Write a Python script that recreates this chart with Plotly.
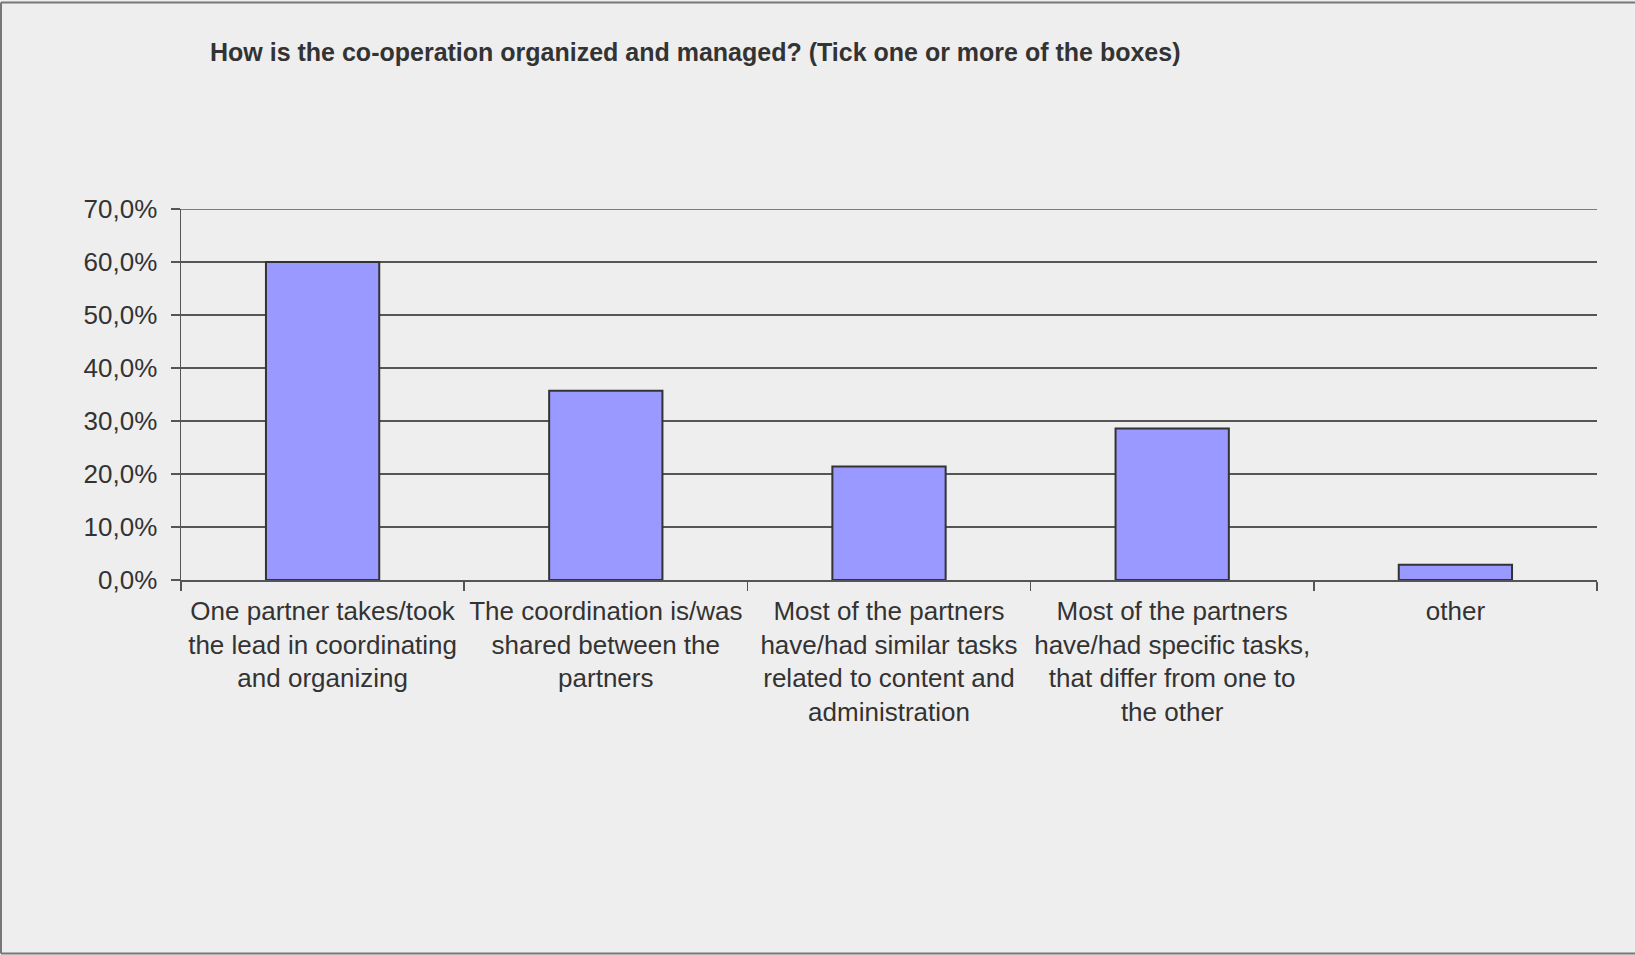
import plotly.graph_objects as go

categories = [
    "One partner takes/took<br>the lead in coordinating<br>and organizing",
    "The coordination is/was<br>shared between the<br>partners",
    "Most of the partners<br>have/had similar tasks<br>related to content and<br>administration",
    "Most of the partners<br>have/had specific tasks,<br>that differ from one to<br>the other",
    "other",
]
values = [0.600, 0.357, 0.214, 0.286, 0.029]
tick_vals = [0, 0.1, 0.2, 0.3, 0.4, 0.5, 0.6, 0.7]
tick_text = ["0,0%", "10,0%", "20,0%", "30,0%", "40,0%", "50,0%", "60,0%", "70,0%"]
y_max = 0.7
title_text = "How is the co-operation organized and managed? (Tick one or more of the boxes)"

W, H = 1635, 955
L, R, T, B = 181, 38, 209, 375
pw, ph = W - L - R, H - T - B

fig = go.Figure()
fig.add_trace(go.Bar(
    x=categories, y=values,
    marker=dict(color="#9999FF", line=dict(color="#333333", width=2)),
    width=0.40,
    hoverinfo="skip",
))

def px_x(p):
    return (p - L) / pw

def px_y(p):
    return (H - B - p) / ph

fig.update_layout(
    width=W, height=H,
    margin=dict(l=L, r=R, t=T, b=B, autoexpand=False),
    paper_bgcolor="#EEEEEE",
    plot_bgcolor="#EEEEEE",
    showlegend=False,
    font=dict(family="Liberation Sans, Arial, sans-serif", size=26, color="#333333"),
    title=dict(
        text=title_text,
        xref="container", yref="container",
        x=210 / W, xanchor="left",
        y=1 - 52 / H, yanchor="middle",
        font=dict(family="Liberation Sans, Arial, sans-serif", size=25, color="#333333", weight="bold"),
    ),
    xaxis=dict(
        type="category",
        showgrid=False,
        showline=True, linecolor="#555555", linewidth=1.5,
        ticks="outside", ticklen=9, tickcolor="#555555", tickwidth=1.5,
        tickson="boundaries",
        tickangle=0,
        tickfont=dict(size=26, color="#333333"),
        ticklabelstandoff=7,
        fixedrange=True,
    ),
    yaxis=dict(
        range=[0, y_max],
        tickvals=tick_vals, ticktext=tick_text,
        showgrid=True, gridcolor="#555555", gridwidth=1.5,
        showline=True, linecolor="#555555", linewidth=1.5,
        ticks="outside", ticklen=9, tickcolor="#555555", tickwidth=1.5,
        tickfont=dict(size=26, color="#333333"),
        ticklabelstandoff=8,
        zeroline=False,
        fixedrange=True,
    ),
    shapes=[
        dict(type="line", xref="paper", yref="y",
             x0=0, x1=1, y0=y_max, y1=y_max,
             line=dict(color="#555555", width=1.5)),
        dict(type="line", xref="paper", yref="paper",
             x0=px_x(1), x1=px_x(1640), y0=px_y(2.5), y1=px_y(2.5),
             line=dict(color="#777777", width=2)),
        dict(type="line", xref="paper", yref="paper",
             x0=px_x(1), x1=px_x(1), y0=px_y(2.5), y1=px_y(953.5),
             line=dict(color="#777777", width=2)),
        dict(type="line", xref="paper", yref="paper",
             x0=px_x(1), x1=px_x(1640), y0=px_y(953.5), y1=px_y(953.5),
             line=dict(color="#777777", width=2)),
    ],
)

fig.write_html(
    "out.html",
    config={"displayModeBar": False, "staticPlot": True},
    post_script="document.body.style.margin='0';",
)
